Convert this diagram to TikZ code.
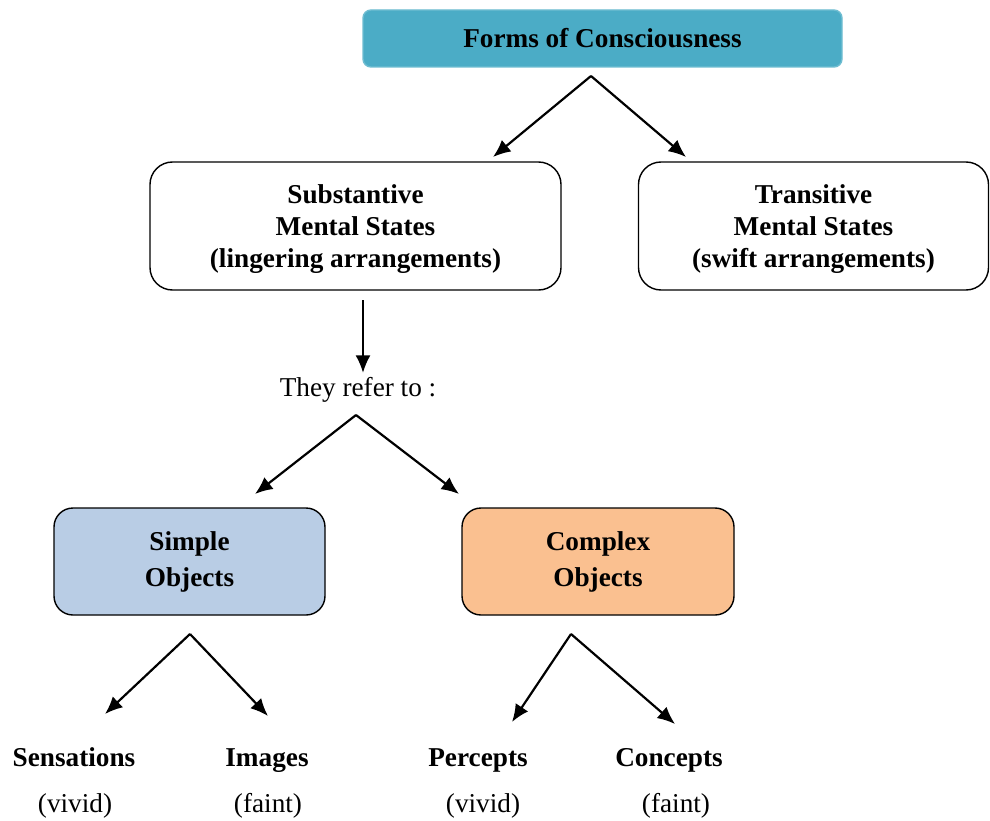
\documentclass[tikz,border=0pt]{standalone}
\usepackage{fontspec}
\setmainfont{Liberation Serif}
\usepackage{xcolor}
\usetikzlibrary{arrows.meta}
\definecolor{bleuTitre}{HTML}{4BACC6}
\definecolor{bleuSimple}{HTML}{B9CDE5}
\definecolor{orangeComplexe}{HTML}{FAC090}

\begin{document}
\begin{tikzpicture}[x=0.02cm,y=-0.02cm]
% Styles
\tikzstyle{fleche}=[-{Latex[length=10pt,width=8.5pt]},line width=1.25pt]
\tikzstyle{boite}=[draw,line width=0.8pt,rounded corners=0.45cm,align=center,font=\bfseries\fontsize{15.5}{18.2}\selectfont]
\tikzstyle{etat}=[boite,text depth=0pt]
\tikzstyle{titre}=[boite,draw=bleuTitre!80!white,fill=bleuTitre,rounded corners=0.16cm]
\tikzstyle{objet}=[boite,rounded corners=0.38cm,font=\bfseries\fontsize{15.5}{20.5}\selectfont]
\tikzstyle{terme}=[anchor=base,font=\bfseries\fontsize{15.5}{18}\selectfont]
\tikzstyle{texte}=[font=\fontsize{15.5}{18}\selectfont]
% Dimensions
\def\Unite{0.02}
% Cadre
\useasboundingbox (0,0) rectangle (990,821);
% Noeuds
\node[titre,minimum width={479*\Unite cm},minimum height={57*\Unite cm}] (F) at (602.5,38.5) {Forms of Consciousness};
\node[etat,minimum width={411*\Unite cm},minimum height={128*\Unite cm}] (Fa) at (355.5,226) {Substantive\\Mental States\\(lingering arrangements)};
\node[etat,minimum width={350*\Unite cm},minimum height={128*\Unite cm}] (Fb) at (813.5,226) {Transitive\\Mental States\\(swift arrangements)};
\node[texte] (R) at (358,390) {They refer to :};
\node[objet,fill=bleuSimple,minimum width={271*\Unite cm},minimum height={107*\Unite cm}] (Ra) at (189.5,561.5) {Simple\\Objects};
\node[objet,fill=orangeComplexe,minimum width={272*\Unite cm},minimum height={107*\Unite cm}] (Rb) at (598,561.5) {Complex\\Objects};
\node[terme] (Raa) at (74,766) {Sensations};
\node[texte] (Raa1) at (75,806) {(vivid)};
\node[terme] (Rab) at (267,766) {Images};
\node[texte] (Rab1) at (268,806) {(faint)};
\node[terme] (Rba) at (478,766) {Percepts};
\node[texte] (Rba1) at (483,806) {(vivid)};
\node[terme] (Rbb) at (669,766) {Concepts};
\node[texte] (Rbb1) at (676,806) {(faint)};
% Points des fleches
\coordinate (SF) at (591,76);
\coordinate (SFa) at (493,157);
\coordinate (SFb) at (686,157);
\coordinate (SA) at (363,300);
\coordinate (SR) at (363,373);
\coordinate (SRx) at (356,415);
\coordinate (SRa) at (255,494);
\coordinate (SRb) at (459,494);
\coordinate (SRax) at (190,634);
\coordinate (SRaa) at (105,714);
\coordinate (SRab) at (268,716);
\coordinate (SRbx) at (571,634);
\coordinate (SRba) at (512,722);
\coordinate (SRbb) at (675,724);
% Arcs
\draw[fleche] (SF)--(SFa);
\draw[fleche] (SF)--(SFb);
\draw[fleche] (SA)--(SR);
\draw[fleche] (SRx)--(SRa);
\draw[fleche] (SRx)--(SRb);
\draw[fleche] (SRax)--(SRaa);
\draw[fleche] (SRax)--(SRab);
\draw[fleche] (SRbx)--(SRba);
\draw[fleche] (SRbx)--(SRbb);
\end{tikzpicture}
\end{document}
